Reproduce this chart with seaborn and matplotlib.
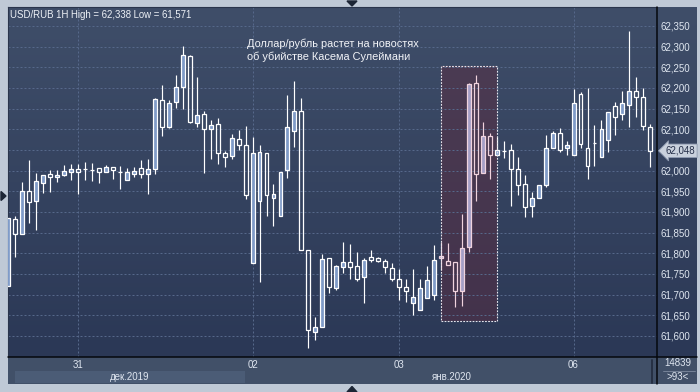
import numpy as np
import pandas as pd
import matplotlib
matplotlib.use("Agg")
import matplotlib.pyplot as plt
import seaborn as sns
from matplotlib.patches import Rectangle, Polygon
from matplotlib.colors import LinearSegmentedColormap
from matplotlib.transforms import blended_transform_factory

# ---------------- data ----------------
opens = [61.720, 61.882, 61.846, 61.951, 61.927, 61.971, 61.991, 61.984, 61.990, 61.996,
         62.003, 62.003, 62.002, 62.006, 61.996, 62.008, 61.996, 61.977, 61.991, 62.006,
         61.991, 62.003, 62.170, 62.106, 62.165, 62.202, 62.277, 62.115, 62.136, 62.100,
         62.112, 62.042, 62.035, 62.076, 62.061, 61.776, 61.927, 62.042, 61.935, 61.890,
         62.001, 62.095, 62.144, 61.807, 61.610, 61.621, 61.788, 61.715, 61.766, 61.778,
         61.769, 61.742, 61.790, 61.788, 61.781, 61.765, 61.737, 61.718, 61.681, 61.664,
         61.691, 61.698, 61.788, 61.781, 61.778, 61.710, 61.815, 62.211, 61.994, 62.085,
         62.037, 62.048, 62.049, 62.003, 61.967, 61.914, 61.933, 61.965, 62.056, 62.090,
         62.056, 62.037, 62.185, 62.054, 62.068, 62.032, 62.074, 62.157, 62.136, 62.160,
         62.192, 62.177, 62.106]
highs = [61.885, 61.890, 61.973, 62.026, 61.994, 61.989, 62.002, 62.002, 62.013, 62.016,
         62.016, 62.021, 62.019, 62.006, 62.014, 62.008, 62.011, 62.006, 62.009, 62.026,
         62.028, 62.175, 62.207, 62.170, 62.231, 62.302, 62.281, 62.226, 62.144, 62.122,
         62.127, 62.048, 62.088, 62.098, 62.108, 62.081, 62.061, 62.042, 61.968, 61.996,
         62.183, 62.217, 62.175, 61.807, 61.645, 61.798, 61.788, 61.771, 61.827, 61.823,
         61.802, 61.788, 61.808, 61.792, 61.787, 61.776, 61.761, 61.737, 61.761, 61.737,
         61.769, 61.820, 61.827, 61.826, 61.778, 61.895, 62.211, 62.231, 62.118, 62.090,
         62.082, 62.072, 62.065, 62.033, 61.990, 61.948, 61.965, 62.086, 62.096, 62.102,
         62.072, 62.197, 62.191, 62.199, 62.110, 62.123, 62.141, 62.166, 62.192, 62.338,
         62.226, 62.199, 62.112]
lows = [61.720, 61.792, 61.846, 61.873, 61.856, 61.945, 61.948, 61.973, 61.988, 61.977,
        61.944, 61.977, 61.975, 61.971, 61.996, 61.980, 61.956, 61.977, 61.985, 61.983,
        61.944, 61.993, 62.085, 62.102, 62.151, 62.148, 62.115, 62.106, 61.995, 62.029,
        62.015, 62.010, 62.027, 62.050, 61.932, 61.776, 61.731, 61.891, 61.865, 61.890,
        61.983, 62.058, 61.807, 61.571, 61.590, 61.621, 61.705, 61.712, 61.753, 61.739,
        61.734, 61.679, 61.779, 61.779, 61.752, 61.734, 61.687, 61.683, 61.651, 61.664,
        61.691, 61.687, 61.760, 61.771, 61.669, 61.673, 61.802, 61.927, 61.994, 61.979,
        62.037, 62.030, 61.915, 61.940, 61.887, 61.887, 61.933, 61.960, 62.056, 62.046,
        62.039, 62.037, 62.054, 61.979, 62.012, 62.032, 62.044, 62.086, 62.123, 62.106,
        62.129, 62.098, 62.010]
closes = [61.885, 61.846, 61.951, 61.925, 61.974, 61.989, 61.985, 61.990, 61.998, 62.003,
          61.996, 62.003, 62.002, 61.996, 62.010, 62.001, 61.996, 61.996, 61.998, 61.992,
          62.003, 62.173, 62.106, 62.163, 62.202, 62.279, 62.117, 62.134, 62.100, 62.110,
          62.042, 62.032, 62.078, 62.061, 61.940, 62.042, 62.044, 61.940, 61.943, 61.996,
          62.105, 62.144, 61.807, 61.615, 61.621, 61.786, 61.718, 61.769, 61.778, 61.767,
          61.739, 61.784, 61.784, 61.781, 61.766, 61.737, 61.718, 61.710, 61.695, 61.715,
          61.735, 61.784, 61.794, 61.771, 61.710, 61.812, 62.209, 61.991, 62.085, 62.037,
          62.049, 62.048, 62.003, 61.965, 61.911, 61.933, 61.965, 62.054, 62.090, 62.049,
          62.061, 62.163, 62.064, 62.012, 62.068, 62.100, 62.141, 62.129, 62.163, 62.192,
          62.177, 62.108, 62.047]

date_tick_pos = [10, 35, 56, 81]
date_tick_labels = ["31", "02", "03", "06"]
month_labels = ["дек.2019", "янв.2020"]
price_ticks = [61.60, 61.65, 61.70, 61.75, 61.80, 61.85, 61.90, 61.95, 62.00,
               62.05, 62.10, 62.15, 62.20, 62.25, 62.30, 62.35]
price_tick_labels = ["61,600", "61,650", "61,700", "61,750", "61,800", "61,850",
                     "61,900", "61,950", "62,000", "", "62,100", "62,150",
                     "62,200", "62,250", "62,300", "62,350"]
last_price = 62.048
last_price_label = "62,048"
title_text = "USD/RUB 1H High = 62,338 Low = 61,571"
note_lines = ["Доллар/рубль растет на новостях", "об убийстве Касема Сулеймани"]
highlight_first, highlight_last = 62, 69
info_texts = ["14839", ">93<"]

df = pd.DataFrame({"open": opens, "high": highs, "low": lows, "close": closes})
df["x"] = np.arange(len(df))

# ---------------- style ----------------
sns.set_style("dark")
plt.rcParams["font.family"] = ["Liberation Sans", "DejaVu Sans"]

W, H = 700, 392
fig = plt.figure(figsize=(W / 100, H / 100), dpi=100)
fig.patch.set_facecolor("#bfc9d6")


def frac(x0, y0, x1, y1):
    return [x0 / W, 1 - y1 / H, (x1 - x0) / W, (y1 - y0) / H]


# background layer in pixel coordinates
bg = fig.add_axes([0, 0, 1, 1], zorder=0)
grad = np.linspace(0, 1, 256).reshape(-1, 1)
cmap = LinearSegmentedColormap.from_list("bgc", ["#3f4e69", "#2b3856"])
bg.imshow(grad, cmap=cmap, extent=(8, 697, 357, 7), aspect="auto", origin="upper",
          interpolation="bicubic")
bg.add_patch(Rectangle((8, 357), 689, 27, color="#415068", lw=0))
bg.add_patch(Rectangle((15, 371), 230, 12, color="#4b5c76", lw=0))
bg.set_xlim(0, W)
bg.set_ylim(H, 0)
bg.axis("off")

# main chart axes
ax = fig.add_axes(frac(8.3, 7.3, 657.3, 356.7), zorder=2)
ax.set_facecolor("none")
ax.set_xlim(0, 93)
ax.set_ylim(61.5499, 62.3952)

# highlight rectangle fill
ax.add_patch(Rectangle((62.05, 61.636), 70.0 - 62.05, 62.252 - 61.636,
                       facecolor="#5a2c40", alpha=0.5, lw=0, zorder=0.3))

# grid
ax.set_axisbelow(True)
ax.set_yticks(price_ticks, price_tick_labels)
ax.set_xticks(date_tick_pos, date_tick_labels)
ax.grid(True, color="#56688a", lw=0.72, linestyle=(0, (2, 2)))

# candles
up = df["close"] >= df["open"]
in_hl = (df["x"] >= highlight_first) & (df["x"] <= highlight_last)
body_lo = np.minimum(df["open"], df["close"])
body_hi = np.maximum(df["open"], df["close"])
edge = np.where(in_hl, "#f0d3de", "#ffffff")
fill = np.where(up, np.where(in_hl, "#a59fc6", "#7f9bc8"), "none")

ax.vlines(df["x"], body_hi, df["high"], colors=edge, lw=0.85, zorder=2)
ax.vlines(df["x"], df["low"], body_lo, colors=edge, lw=0.85, zorder=2)
for xi, lo, hi, fc, ec in zip(df["x"], body_lo, body_hi, fill, edge):
    ax.bar(xi, hi - lo, bottom=lo, width=0.56, color=fc, edgecolor=ec,
           linewidth=0.9, zorder=3)

# highlight border
ax.add_patch(Rectangle((62.05, 61.636), 70.0 - 62.05, 62.252 - 61.636,
                       facecolor="none", edgecolor="#e6e4ec", lw=0.8,
                       linestyle=(0, (1.6, 1.2)), zorder=4))

# axes / ticks
ax.yaxis.tick_right()
ax.tick_params(axis="y", length=0, pad=2.2, labelsize=7, labelcolor="#dfe6f0")
ax.tick_params(axis="x", length=0, pad=2.6, labelsize=7, labelcolor="#dfe6f0")
for s in ["left", "top"]:
    ax.spines[s].set_color("#2a354c")
    ax.spines[s].set_linewidth(0.8)
for s in ["right", "bottom"]:
    ax.spines[s].set_visible(False)

# last price tag
tr = blended_transform_factory(ax.transAxes, ax.transData)
ax.text(1.013, last_price, last_price_label, transform=tr, fontsize=7,
        color="#26304a", va="center", ha="left", clip_on=False, zorder=6,
        bbox=dict(boxstyle="larrow,pad=0.18", fc="#c9d1dd", ec="#8e9ab0", lw=0.6))

# foreground overlay (pixel coordinates) for frame decorations and texts
fg = fig.add_axes([0, 0, 1, 1], zorder=5)
fg.set_facecolor("none")
fg.set_xlim(0, W)
fg.set_ylim(H, 0)
fg.axis("off")
fg.plot([657.3, 657.3], [7, 384], color="#05080d", lw=1.1)
fg.plot([8, 697], [357, 357], color="#05080d", lw=1.1)
fg.plot([651.5, 651.5], [360, 383], color="#263043", lw=1.4)
fg.plot([663, 695], [371, 371], color="#7f8ba0", lw=0.6)
fg.text(10, 18, title_text, fontsize=6.9, color="#eef2f7", va="baseline", ha="left")
fg.text(247, 46.7, note_lines[0], fontsize=7.9, color="#f2f4f8", va="baseline", ha="left")
fg.text(247, 60.2, note_lines[1], fontsize=7.9, color="#f2f4f8", va="baseline", ha="left")
fg.text(130, 377, month_labels[0], fontsize=7, color="#dfe6f0", va="center", ha="center")
fg.text(452, 377, month_labels[1], fontsize=7, color="#dfe6f0", va="center", ha="center")
fg.text(678, 363.5, info_texts[0], fontsize=7, color="#dfe6f0", va="center", ha="center")
fg.text(678, 377.5, info_texts[1], fontsize=7, color="#dfe6f0", va="center", ha="center")
tri = "#1c2535"
fg.add_patch(Polygon([[347, 1], [357, 1], [352, 6]], closed=True, color=tri))
fg.add_patch(Polygon([[347, 392], [357, 392], [352, 386.5]], closed=True, color=tri))
fg.add_patch(Polygon([[1, 191.5], [1, 200.5], [6, 196]], closed=True, color=tri))

fig.savefig("out.png", dpi=100, facecolor=fig.get_facecolor())
